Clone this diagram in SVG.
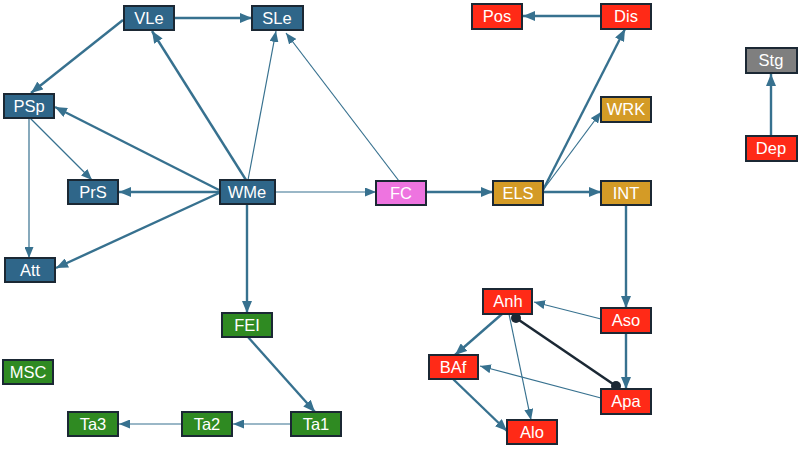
<svg xmlns="http://www.w3.org/2000/svg" width="800" height="450" viewBox="0 0 800 450">
<style>
.n rect{stroke:#1b2834;stroke-width:2}
.n text{fill:#ffffff;font-family:"Liberation Sans",Arial,sans-serif;font-size:16.5px;text-anchor:middle;dominant-baseline:central}
.b rect{fill:#2f6689}
.r rect{fill:#ff2a17}
.g rect{fill:#d49b26}
.gr rect{fill:#2f8a22}
.m rect{fill:#ee74e0}
.s rect{fill:#7f7f7f}
.e line{stroke:#37718f;fill:none}
.k{stroke-width:2.4;marker-end:url(#ak)}
.t{stroke-width:1.2;marker-end:url(#at)}
</style>
<defs>
<marker id="ak" markerUnits="userSpaceOnUse" markerWidth="12" markerHeight="10" refX="12" refY="5" orient="auto" viewBox="0 0 12 10"><path d="M0,0 L12,5 L0,10 z" fill="#37718f"/></marker>
<marker id="at" markerUnits="userSpaceOnUse" markerWidth="11" markerHeight="9" refX="11" refY="4.5" orient="auto" viewBox="0 0 11 9"><path d="M0,0 L11,4.5 L0,9 z" fill="#37718f"/></marker>
</defs>
<rect width="800" height="450" fill="#ffffff"/>
<g id="edges" class="e">
<line class="k" x1="174" y1="18" x2="252" y2="18"/>
<line class="k" x1="123" y1="20" x2="31" y2="93"/>
<line class="k" x1="246" y1="180" x2="152" y2="31"/>
<line class="t" x1="248" y1="180" x2="276" y2="31"/>
<line class="t" x1="399" y1="181" x2="286" y2="33"/>
<line class="k" x1="219" y1="190" x2="55" y2="107"/>
<line class="t" x1="30" y1="118" x2="92" y2="180"/>
<line class="t" x1="29" y1="118" x2="29" y2="258"/>
<line class="k" x1="219" y1="192" x2="119" y2="192"/>
<line class="k" x1="219" y1="193" x2="56" y2="268"/>
<line class="t" x1="275" y1="192" x2="376" y2="192"/>
<line class="k" x1="247" y1="204" x2="247" y2="313"/>
<line class="k" x1="248" y1="337" x2="315" y2="412"/>
<line class="t" x1="291" y1="424" x2="233" y2="424"/>
<line class="t" x1="182" y1="424" x2="119" y2="424"/>
<line class="k" x1="426" y1="192" x2="493" y2="192"/>
<line class="k" x1="543" y1="192" x2="601" y2="192"/>
<line class="k" x1="543" y1="190" x2="625" y2="29"/>
<line class="t" x1="543" y1="190" x2="601" y2="112"/>
<line class="k" x1="601" y1="16" x2="523" y2="16"/>
<line class="k" x1="771" y1="135" x2="771" y2="74"/>
<line class="k" x1="626" y1="205" x2="626" y2="308"/>
<line class="t" x1="601" y1="319" x2="534" y2="302"/>
<line class="k" x1="626" y1="333" x2="626" y2="389"/>
<line class="k" x1="502" y1="314" x2="455" y2="355"/>
<line class="t" x1="509" y1="314" x2="531" y2="420"/>
<line class="t" x1="601" y1="398" x2="480" y2="366"/>
<line class="k" x1="453" y1="379" x2="507" y2="431"/>
<line x1="516" y1="318" x2="616" y2="386" style="stroke:#1b2834;stroke-width:2.6"/>
<circle cx="516" cy="318" r="5" fill="#1b2834"/>
<circle cx="616" cy="386" r="5" fill="#1b2834"/>
</g>
<g id="VLe" class="n b"><rect x="124" y="6" width="50" height="24"/><text x="149" y="18">VLe</text></g>
<g id="SLe" class="n b"><rect x="252" y="6" width="51" height="24"/><text x="277" y="18">SLe</text></g>
<g id="PSp" class="n b"><rect x="4" y="94" width="50" height="24"/><text x="29" y="106">PSp</text></g>
<g id="PrS" class="n b"><rect x="68" y="180" width="50" height="24"/><text x="93" y="192">PrS</text></g>
<g id="WMe" class="n b"><rect x="220" y="180" width="55" height="24"/><text x="247" y="192">WMe</text></g>
<g id="Att" class="n b"><rect x="5" y="258" width="50" height="24"/><text x="30" y="270">Att</text></g>
<g id="FC" class="n m"><rect x="376" y="181" width="50" height="24"/><text x="401" y="193">FC</text></g>
<g id="ELS" class="n g"><rect x="493" y="181" width="50" height="24"/><text x="518" y="193">ELS</text></g>
<g id="INT" class="n g"><rect x="601" y="181" width="50" height="24"/><text x="626" y="193">INT</text></g>
<g id="WRK" class="n g"><rect x="601" y="97" width="50" height="25"/><text x="626" y="109">WRK</text></g>
<g id="Dis" class="n r"><rect x="601" y="4" width="50" height="25"/><text x="626" y="16">Dis</text></g>
<g id="Pos" class="n r"><rect x="472" y="4" width="50" height="25"/><text x="497" y="16">Pos</text></g>
<g id="Stg" class="n s"><rect x="746" y="48" width="51" height="25"/><text x="771" y="60">Stg</text></g>
<g id="Dep" class="n r"><rect x="746" y="136" width="51" height="25"/><text x="771" y="148">Dep</text></g>
<g id="Anh" class="n r"><rect x="483" y="289" width="49" height="25"/><text x="508" y="301">Anh</text></g>
<g id="Aso" class="n r"><rect x="601" y="308" width="50" height="25"/><text x="626" y="320">Aso</text></g>
<g id="BAf" class="n r"><rect x="429" y="355" width="49" height="24"/><text x="453" y="367">BAf</text></g>
<g id="Apa" class="n r"><rect x="601" y="389" width="50" height="25"/><text x="626" y="401">Apa</text></g>
<g id="Alo" class="n r"><rect x="507" y="420" width="50" height="24"/><text x="532" y="432">Alo</text></g>
<g id="FEI" class="n gr"><rect x="222" y="313" width="50" height="24"/><text x="247" y="325">FEI</text></g>
<g id="MSC" class="n gr"><rect x="3" y="360" width="50" height="24"/><text x="28" y="372">MSC</text></g>
<g id="Ta3" class="n gr"><rect x="68" y="412" width="50" height="24"/><text x="93" y="424">Ta3</text></g>
<g id="Ta2" class="n gr"><rect x="182" y="412" width="50" height="24"/><text x="207" y="424">Ta2</text></g>
<g id="Ta1" class="n gr"><rect x="291" y="412" width="50" height="24"/><text x="316" y="424">Ta1</text></g>
</svg>
